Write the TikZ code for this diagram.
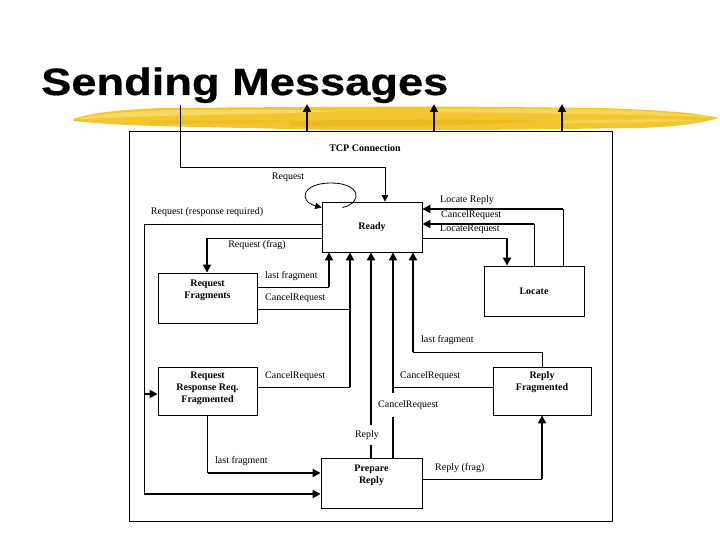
\documentclass[tikz,border=0pt]{standalone}
\usepackage{fontspec}
\setmainfont{Liberation Serif}
\newfontfamily\titlefont[FakeBold=0.5]{Liberation Sans Bold}
\usetikzlibrary{arrows.meta,calc}
\definecolor{brushmain}{RGB}{242,198,46}
\definecolor{brushlight}{RGB}{250,226,120}
\definecolor{brushdark}{RGB}{234,178,24}
\begin{document}
\begin{tikzpicture}[x=1pt,y=-1pt,
  thinl/.style={line width=0.8pt},
  thickl/.style={line width=2.6pt},
  arr/.style={-{Triangle[length=8pt,width=8pt]}},
  sarr/.style={-{Triangle[length=6.5pt,width=6.5pt]}},
  lbl/.style={font=\fontsize{10}{12}\selectfont, inner sep=1pt},
  gaplbl/.style={lbl, fill=white, inner sep=0pt},
  boxlbl/.style={font=\fontsize{10}{12}\selectfont\bfseries, align=center, inner sep=0pt},
  box/.style={draw, line width=0.8pt, inner sep=0pt, font=\fontsize{10}{12}\selectfont\bfseries, align=center},
]
\useasboundingbox (0,0) rectangle (720,540);
\fill[white] (0,0) rectangle (720,540);

% yellow brush stroke
\fill[brushmain] (73,119) .. controls (95,112) and (120,110) .. (160,108) -- (300,107) -- (450,106.5) -- (600,108)
  .. controls (660,110) and (700,113) .. (718,118) .. controls (700,124) and (670,127) .. (640,128)
  -- (480,130) -- (330,130) -- (200,127) .. controls (140,126) and (100,124) .. (73,121) -- cycle;
\fill[brushlight, opacity=0.7] (80,118) .. controls (110,112) and (150,110) .. (200,110) .. controls (260,109) and (300,110) .. (340,111)
  .. controls (300,113) and (250,114) .. (200,115) .. controls (150,116) and (110,118) .. (80,119) -- cycle;
\fill[brushlight, opacity=0.6] (430,109) .. controls (520,108) and (600,109) .. (640,111) .. controls (670,113) and (700,115) .. (715,117)
  .. controls (680,116) and (620,114) .. (430,112) -- cycle;
\fill[brushlight, opacity=0.5] (560,121) .. controls (620,119) and (680,119) .. (705,120) .. controls (680,122) and (620,123) .. (560,123) -- cycle;
\fill[brushdark, opacity=0.6] (290,121) .. controls (380,119) and (470,119) .. (540,121) .. controls (470,126) and (380,127) .. (290,126) -- cycle;
\fill[brushdark, opacity=0.4] (150,121) .. controls (200,120) and (250,120) .. (290,121) .. controls (250,124) and (200,124) .. (150,124) -- cycle;

% title
\node[anchor=base west, inner sep=0pt] (title) at (41,95)
  {\scalebox{1.19}[1]{\fontsize{38}{40}\selectfont\titlefont Sending Messages}};

% outer state
\node[draw, thinl, minimum width=483pt, minimum height=390pt, inner sep=0pt, anchor=north west] (tcp) at (129,131) {};
\node[boxlbl] (tcplbl) at (365,148) {TCP Connection};

% states
\node[box, minimum width=100pt, minimum height=50pt] (ready) at (372,227) {Ready};
\node[box, minimum width=100pt, minimum height=50pt] (locate) at (534,291) {Locate};
\node[box, minimum width=99pt, minimum height=50pt,
  label={[boxlbl, yshift=8pt]center:Request\\Fragments}] (rf) at (207.5,298) {};
\node[box, minimum width=99pt, minimum height=48pt,
  label={[boxlbl, yshift=3pt]center:Request\\Response Req.\\Fragmented}] (rrrf) at (207.5,391) {};
\node[box, minimum width=98pt, minimum height=48pt,
  label={[boxlbl, yshift=9pt]center:Reply\\Fragmented}] (repf) at (542,391) {};
\node[box, minimum width=101pt, minimum height=50pt,
  label={[boxlbl, yshift=8pt]center:Prepare\\Reply}] (prep) at (371.5,483) {};

% exits at top
\coordinate (tcpin) at (180,105);
\coordinate (out1) at (307,104);
\coordinate (out2) at (434,104);
\coordinate (out3) at (562,104);
\draw[thickl, arr] (tcp.north -| out1) -- (out1);
\draw[thickl, arr] (tcp.north -| out2) -- (out2);
\draw[thickl, arr] (tcp.north -| out3) -- (out3);

% entry into Ready
\draw[thinl, sarr] (tcpin) |- (385,167) -- (ready.north -| 385,0);

% self loop
\draw[thinl, sarr] ($(ready.north west)+(21,6)$) .. controls (364,202) and (360,183) .. (331,183)
  .. controls (302,183) and (298,201) .. ($(ready.north west)+(0,6)$);
\node[lbl] (lreq) at (288,177) {Request};

% Locate transitions
\draw[thinl] (locate.north -| 563,0) -- (563,209);
\draw[thickl, arr] (563,209) -- (ready.east |- 0,209);
\node[lbl, anchor=west] (llr) at (439,200) {Locate Reply};
\draw[thinl] (locate.north -| 534,0) -- (534,224);
\draw[thickl, arr] (534,224) -- (ready.east |- 0,224);
\node[lbl, anchor=west] (lcr1) at (440,215) {CancelRequest};
\draw[thinl] (ready.east |- 0,238) -- (507,238);
\draw[thickl, arr] (507,238) -- (locate.north -| 507,0);
\node[lbl, anchor=west] (llq) at (439,229) {LocateRequest};

% Request (response required)
\draw[thinl] (ready.west |- 0,224) -| (144,494);
\draw[thickl, arr] (144,394) -- (rrrf.west |- 0,394);
\draw[thickl, arr] (144,494) -- (prep.west |- 0,494);
\node[lbl] (lrrr) at (207,212) {Request (response required)};

% Request (frag)
\draw[thinl] (ready.west |- 0,238) -- (207,238);
\draw[thickl, arr] (207,238) -- (rf.north -| 207,0);
\node[lbl] (lrf) at (257,245) {Request (frag)};

% from Request Fragments
\draw[thinl] (rf.east |- 0,287) -- (329,287);
\draw[thickl, arr] (329,287) -- (ready.south -| 329,0);
\node[lbl, anchor=west] (llf1) at (264,276) {last fragment};
\draw[thinl] (rf.east |- 0,309) -- (350,309);
\node[lbl, anchor=west] (lcr2) at (264,298) {CancelRequest};

% from Request Response Req. Fragmented
\draw[thinl] (rrrf.east |- 0,387) -- (350,387);
\draw[thickl, arr] (350,387) -- (ready.south -| 350,0);
\node[lbl, anchor=west] (lcr3) at (264,376) {CancelRequest};
\draw[thinl] (rrrf.south) -- (rrrf.south |- 0,473);
\draw[thickl, arr] (rrrf.south |- 0,473) -- (prep.west |- 0,473);
\node[lbl, anchor=west] (llf3) at (214,461) {last fragment};

% from Prepare Reply
\draw[thickl, arr] (prep.north -| 371,0) -- (ready.south -| 371,0);
\node[gaplbl, minimum height=20pt] (lrep) at (367,435) {Reply};
\draw[thickl, arr] (prep.north -| 393,0) -- (ready.south -| 393,0);
\node[gaplbl, minimum height=24pt, anchor=west] (lcr5) at (378,405) {CancelRequest};
\draw[thinl] (prep.east |- 0,479) -- (542,479);
\draw[thickl, arr] (542,479) -- (repf.south);
\node[lbl, anchor=west] (lrfr) at (434,468) {Reply (frag)};

% from Reply Fragmented
\draw[thinl] (repf.west |- 0,387) -- (393,387);
\node[lbl, anchor=west] (lcr4) at (399,376) {CancelRequest};
\draw[thinl] (repf.north) |- (413,352);
\draw[thickl, arr] (413,352) -- (ready.south -| 413,0);
\node[lbl, anchor=west] (llf2) at (420,340) {last fragment};
\end{tikzpicture}
\end{document}
